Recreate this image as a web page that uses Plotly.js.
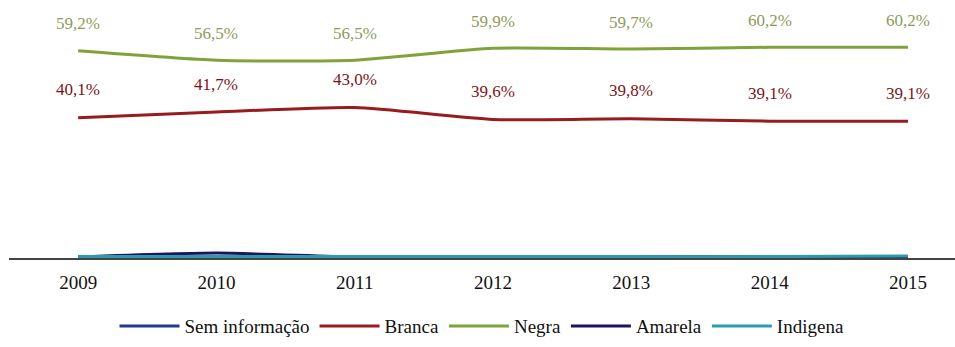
<!DOCTYPE html>
<html><head><meta charset="utf-8">
<script src="https://cdn.plot.ly/plotly-3.0.1.min.js"></script>
<style>
body{margin:0;background:#fff}#c{width:955px;height:347px}
</style>
</head><body><div id="c"></div>
<script>
const years = ['2009','2010','2011','2012','2013','2014','2015'];
const semInfo = [0.3, 0.4, 0.3, 0.3, 0.3, 0.3, 0.4];
const branca = [40.1, 41.7, 43.0, 39.6, 39.8, 39.1, 39.1];
const negra = [59.2, 56.5, 56.5, 59.9, 59.7, 60.2, 60.2];
const amarela = [0.3, 1.4, 0.3, 0.3, 0.3, 0.3, 0.3];
const indigena = [0.4, 0.4, 0.4, 0.4, 0.4, 0.4, 0.6];
const brancaLabels = ['40,1%','41,7%','43,0%','39,6%','39,8%','39,1%','39,1%'];
const negraLabels = ['59,2%','56,5%','56,5%','59,9%','59,7%','60,2%','60,2%'];

const serif = 'Liberation Serif';
function tr(name, y, color){
  return {x: years.map((_,i)=>i), y: y, name: name, type:'scatter', mode:'lines',
    line:{color: color, width: 3, shape:'spline', smoothing:0.6}, hoverinfo:'skip'};
}
const data = [
  tr('Sem informação', semInfo, '#22398f'),
  tr('Branca', branca, '#981b1e'),
  tr('Negra', negra, '#80a23a'),
  tr('Amarela', amarela, '#1b1560'),
  tr('Indigena', indigena, '#2c9bb0')
];
const ann = [];
years.forEach((_,i)=>{
  ann.push({x:i, y:negra[i], text:negraLabels[i], showarrow:false, yshift:27,
    font:{family:serif, size:17, color:'#8e9a5a'}});
  ann.push({x:i, y:branca[i], text:brancaLabels[i], showarrow:false, yshift:28,
    font:{family:serif, size:17, color:'#7a1418'}});
});
const layout = {
  width:955, height:347,
  margin:{l:9, r:0, t:13, b:89},
  font:{family:serif},
  paper_bgcolor:'#fff', plot_bgcolor:'#fff',
  showlegend:true,
  legend:{orientation:'h', x:0.5, xanchor:'center', y:-0.278, yanchor:'middle',
    font:{family:serif, size:19, color:'#111'}, itemwidth:60, tracegroupgap:0},
  xaxis:{range:[-0.5, 6.34], tickvals:years.map((_,i)=>i), ticktext:years,
    showgrid:false, zeroline:false, showline:true, linecolor:'#444', linewidth:1.5,
    ticks:'', ticklabelstandoff:7, tickfont:{family:serif, size:19, color:'#111'}, fixedrange:true},
  yaxis:{range:[0, 70], visible:false, showgrid:false, zeroline:false, fixedrange:true},
  annotations: ann
};
Plotly.newPlot('c', data, layout, {displayModeBar:false, staticPlot:true});
</script></body></html>
